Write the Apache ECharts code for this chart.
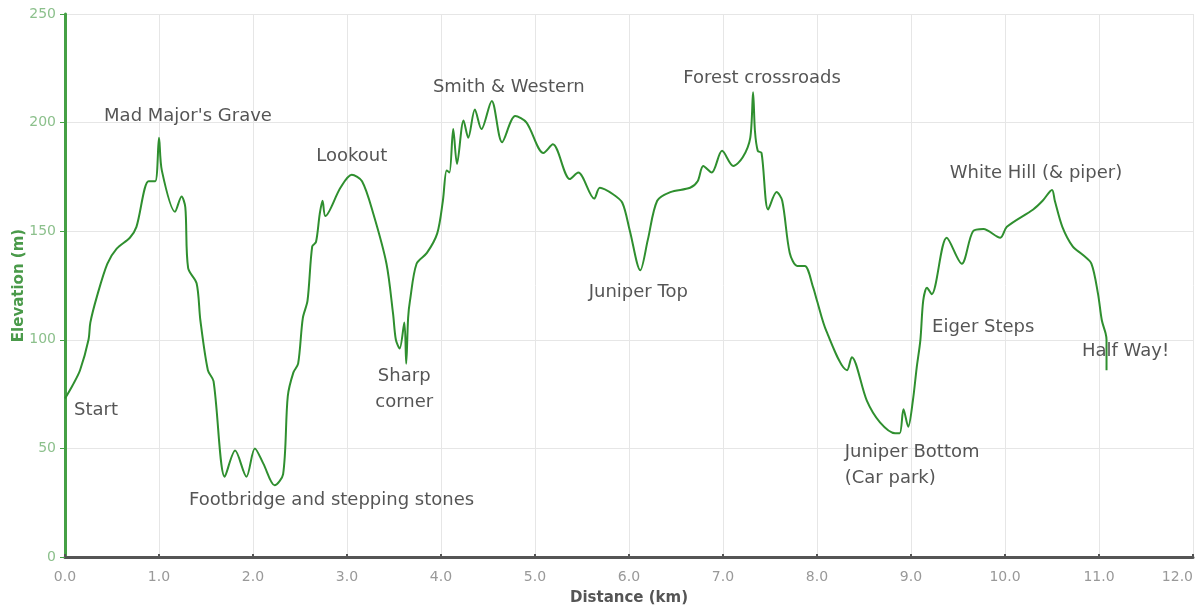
<!DOCTYPE html>
<html>
<head>
<meta charset="utf-8">
<script src="https://cdn.jsdelivr.net/npm/echarts@6/dist/echarts.min.js"></script>
<style>
html,body{margin:0;padding:0;background:#fff;}
#chart{width:1202px;height:609px;}
</style>
</head>
<body>
<div id="chart"></div>
<script>
// Distance (km) and elevation (m) along the route
var distanceKm = [0.00,0.08,0.16,0.25,0.27,0.34,0.45,0.55,0.69,0.76,0.89,0.96,1.00,1.03,1.17,1.24,1.28,1.31,1.40,1.44,1.52,1.58,1.70,1.81,1.93,2.02,2.11,2.23,2.32,2.37,2.43,2.48,2.53,2.58,2.63,2.67,2.71,2.74,2.77,2.93,3.05,3.16,3.28,3.42,3.49,3.52,3.56,3.61,3.63,3.65,3.67,3.74,3.85,3.96,4.02,4.06,4.09,4.13,4.17,4.24,4.29,4.36,4.43,4.54,4.65,4.79,4.91,5.09,5.19,5.37,5.46,5.63,5.69,5.83,5.93,6.01,6.12,6.20,6.30,6.44,6.65,6.73,6.79,6.88,6.99,7.11,7.21,7.29,7.32,7.34,7.37,7.41,7.48,7.57,7.63,7.71,7.79,7.87,7.96,8.00,8.10,8.32,8.37,8.53,8.67,8.83,8.88,8.92,8.97,9.02,9.06,9.10,9.13,9.17,9.22,9.38,9.54,9.66,9.77,9.95,10.02,10.30,10.40,10.50,10.53,10.61,10.72,10.83,10.92,10.99,11.03,11.07,11.08,11.08];
var elevationM = [73,79,86,100,108,120,135,142,147,152,173,173,193,178,159,166,161,133,126,109,86,81,37,49,37,50,43,33,38,74,85,89,110,118,143,145,158,164,157,170,176,173,158,135,112,100,96,108,89,110,118,135,140,149,164,178,177,197,181,201,193,206,197,210,191,203,200,186,190,174,177,165,170,167,163,150,132,146,164,168,170,173,180,177,187,180,184,193,214,196,187,186,160,168,164,140,134,134,124,118,104,86,92,72,62,57,57,68,60,72,87,100,118,124,121,147,135,150,151,147,152,160,164,169,164,152,143,139,135,121,109,103,100,86];

// Named places along the route (km where they sit on the profile)
var placeNames = ["Start","Mad Major's Grave","Footbridge and stepping stones","Lookout","Sharp\ncorner","Smith & Western","Juniper Top","Forest crossroads","Juniper Bottom\n(Car park)","Eiger Steps","White Hill (& piper)","Half Way!"];
var placeKm = [0.00,1.00,2.23,3.05,3.63,4.54,6.12,7.32,8.88,9.13,10.50,11.08];

// Axis ticks
var xTicks = [0,1,2,3,4,5,6,7,8,9,10,11,12];
var yTicks = [0,50,100,150,200,250];

// label placement (pixel offsets from the place's point on the profile)
var labelStyle = [
  {offset:[31,12]},
  {offset:[29,-21]},
  {offset:[57,15]},
  {offset:[0,-18]},
  {offset:[-2,26]},
  {offset:[17,-14]},
  {offset:[-2,22]},
  {offset:[9,-14]},
  {offset:[-55,32], align:'left'},
  {offset:[60,27]},
  {offset:[-16,-17]},
  {offset:[19,12]}
];

var FONT = 'DejaVu Sans, Verdana, sans-serif';

var profile = distanceKm.map(function(d,i){return [d, elevationM[i]];});
var places = placeNames.map(function(n,i){
  var idx = distanceKm.indexOf(placeKm[i]);
  var ls = labelStyle[i];
  return {
    name:n,
    value:[placeKm[i], elevationM[idx]],
    label:{offset:ls.offset, align:ls.align || 'center'}
  };
});

var chart = echarts.init(document.getElementById('chart'));
chart.setOption({
  animation:false,
  backgroundColor:'#ffffff',
  grid:{left:65,right:9,top:14,bottom:52,containLabel:false,outerBoundsMode:'none'},
  xAxis:{
    type:'value',
    min:xTicks[0], max:xTicks[xTicks.length-1], interval:1,
    name:'Distance (km)', nameLocation:'middle', nameGap:34,
    nameTextStyle:{color:'#555',fontWeight:'bold',fontSize:15,fontFamily:FONT},
    axisLine:{show:true,onZero:false,lineStyle:{color:'#555',width:3}},
    axisTick:{show:true,length:3,inside:true,lineStyle:{color:'#555',width:2}},
    axisLabel:{color:'#999',fontSize:14,margin:13,fontFamily:FONT,alignMaxLabel:'right',
      formatter:function(v){return v.toFixed(1);}},
    splitLine:{show:true,lineStyle:{color:'#e6e6e6',width:1}}
  },
  yAxis:{
    type:'value',
    min:yTicks[0], max:yTicks[yTicks.length-1], interval:50,
    name:'Elevation (m)', nameLocation:'middle', nameGap:38, nameRotate:90,
    nameMoveOverlap:false,
    nameTextStyle:{color:'#4a9a4a',fontWeight:'bold',fontSize:15,fontFamily:FONT},
    axisLine:{show:true,lineStyle:{color:'#45a045',width:3}},
    axisTick:{show:true,length:5,lineStyle:{color:'#45a045'}},
    axisLabel:{color:'#8cc08c',fontSize:14,margin:9,fontFamily:FONT},
    splitLine:{show:true,lineStyle:{color:'#e6e6e6',width:1}}
  },
  series:[
    {
      type:'line',
      data:profile,
      smooth:0.3,
      showSymbol:false,
      lineStyle:{color:'#2f8f2f',width:2},
      z:3
    },
    {
      type:'scatter',
      data:places,
      symbolSize:0,
      silent:true,
      label:{
        show:true,
        position:'inside',
        formatter:'{b}',
        color:'#2a2a2a',
        fontSize:18,
        lineHeight:26,
        fontFamily:FONT
      },
      z:4
    }
  ]
});
</script>
</body>
</html>
